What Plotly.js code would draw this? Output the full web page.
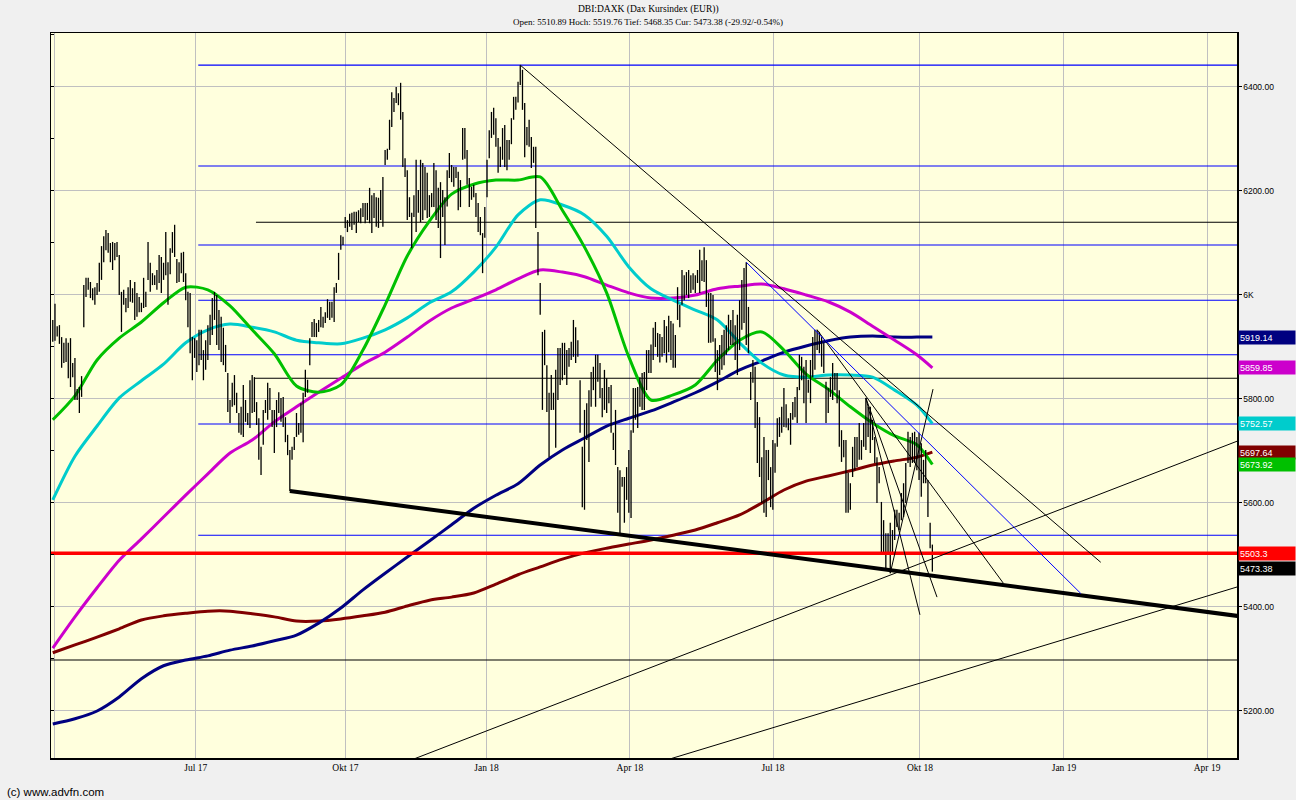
<!DOCTYPE html>
<html><head><meta charset="utf-8">
<script src="https://cdn.plot.ly/plotly-3.0.1.min.js"></script>
<style>html,body{margin:0;padding:0;background:#f0f0f0;}#chart{width:1296px;height:800px;}</style>
</head><body><div id="chart"></div>
<script>
// ---------- DATA ----------
const firstSession = '2017-03-31';
const highs = [
5952,5983,5940,5942,5919,5908,5917,5908,5917,5869,
5879,5819,5823,5844,6019,6033,6033,6025,6013,6015,
6023,6062,6094,6113,6125,6119,6100,6102,6100,6102,
6077,6006,6010,5994,6015,6029,6013,6025,6004,5996,
5985,6033,6006,6102,6062,6042,6038,6048,6077,6073,
6062,6121,6063,6090,6121,6135,6069,6063,6081,6083,
6042,6006,6004,5919,5917,5913,5933,5933,5894,5913,
5942,5962,5994,6006,6000,5971,5958,5937,5904,5850,
5798,5831,5846,5812,5773,5785,5827,5798,5773,5836,
5846,5842,5794,5763,5708,5779,5798,5831,5821,5779,
5779,5798,5813,5802,5804,5765,5731,5702,5708,5727,
5773,5754,5792,5812,5856,5837,5917,5948,5954,5946,
5952,5977,5958,5967,5992,5987,5987,6015,6023,6081,
6115,6112,6150,6144,6156,6158,6160,6160,6163,6167,
6177,6177,6177,6206,6192,6196,6188,6187,6202,6227,
6279,6281,6337,6390,6379,6400,6388,6408,6352,6263,
6240,6188,6158,6192,6260,6202,6260,6254,6246,6235,
6192,6196,6254,6240,6206,6217,6202,6188,6240,6273,
6250,6246,6246,6237,6221,6321,6321,6279,6225,6208,
6212,6196,6177,6150,6119,6169,6260,6317,6352,6360,
6340,6302,6285,6321,6327,6298,6298,6340,6381,6381,
6410,6442,6433,6369,6323,6337,6304,6285,6285,6121,
6023,5929,5933,5865,5812,5846,5812,5856,5898,5898,
5908,5908,5894,5898,5910,5952,5938,5913,5836,5708,
5779,5792,5817,5852,5862,5885,5885,5869,5821,5856,
5840,5823,5827,5735,5779,5669,5663,5650,5650,5669,
5702,5740,5821,5821,5823,5842,5850,5852,5894,5894,
5905,5937,5948,5927,5925,5919,5952,5940,5960,5950,
5945,5923,6015,5981,6048,6038,6044,6048,6038,6042,
6038,6048,6087,6067,6092,6067,6004,6004,6000,5917,
5894,5904,5923,5933,5942,5962,5952,5971,5942,5962,
5990,6029,6052,6063,5977,5852,5875,5862,5794,5765,
5688,5727,5702,5702,5669,5721,5715,5763,5765,5785,
5821,5790,5763,5773,5794,5804,5823,5885,5881,5862,
5875,5837,5875,5919,5933,5933,5929,5919,5908,5833,
5821,5842,5869,5850,5850,5817,5740,5721,5721,5658,
5638,5708,5727,5727,5754,5721,5754,5802,5785,5785,
5760,5727,5688,5669,5602,5567,5542,5542,5562,5548,
5587,5587,5581,5619,5638,5677,5737,5727,5735,5737,
5727,5735,5715,5683,5702,5644,5562,5520];
const lows = [
5910,5912,5920,5906,5860,5869,5871,5840,5823,5842,
5798,5798,5773,5804,5938,5996,6010,5994,5990,5981,
6000,6006,6029,6063,6086,6081,6063,6048,6067,6073,
6000,5929,5981,5967,5975,5987,5985,5952,5958,5967,
5967,5975,5977,6029,6006,6019,6019,6010,6023,6004,
6029,6038,5981,6040,6081,6073,6023,6025,6042,6025,
5990,5938,5888,5836,5879,5852,5865,5875,5836,5856,
5875,5904,5923,5952,5904,5894,5871,5865,5852,5775,
5754,5785,5788,5773,5735,5731,5727,5756,5750,5744,
5773,5775,5750,5683,5654,5712,5773,5760,5779,5746,
5696,5746,5773,5756,5746,5717,5692,5623,5683,5702,
5727,5731,5735,5717,5804,5812,5865,5919,5919,5919,
5929,5938,5937,5946,5956,5952,5956,5948,6004,6029,
6087,6096,6129,6121,6131,6125,6135,6119,6140,6138,
6150,6138,6144,6138,6119,6148,6131,6129,6144,6131,
6250,6260,6279,6323,6352,6369,6365,6337,6246,6227,
6144,6150,6090,6150,6121,6158,6140,6144,6163,6148,
6150,6169,6169,6144,6129,6071,6150,6096,6170,6225,
6217,6208,6225,6163,6169,6260,6262,6212,6169,6183,
6188,6150,6121,6115,6042,6110,6188,6263,6302,6308,
6285,6235,6246,6260,6246,6240,6260,6290,6337,6356,
6370,6404,6356,6265,6288,6285,6244,6254,6129,6038,
5962,5779,5865,5775,5688,5779,5779,5706,5798,5827,
5836,5846,5827,5862,5875,5881,5869,5881,5735,5592,
5587,5721,5679,5785,5817,5785,5833,5802,5765,5779,
5773,5792,5735,5702,5673,5581,5542,5631,5562,5606,
5581,5571,5735,5760,5744,5785,5779,5779,5817,5850,
5850,5875,5900,5881,5870,5881,5888,5870,5890,5875,
5860,5860,5952,5938,5981,5990,6000,5994,6004,6010,
6004,6023,6004,6027,6025,5977,5908,5908,5910,5852,
5817,5846,5856,5865,5885,5894,5904,5904,5875,5846,
5894,5933,5946,5904,5888,5798,5831,5744,5677,5650,
5600,5581,5573,5644,5592,5587,5658,5708,5727,5735,
5746,5745,5740,5712,5760,5765,5754,5817,5836,5792,
5754,5812,5792,5842,5856,5894,5888,5862,5850,5754,
5773,5804,5798,5817,5792,5708,5679,5688,5581,5581,
5587,5650,5663,5669,5683,5683,5708,5702,5727,5696,
5721,5677,5600,5638,5504,5500,5475,5500,5465,5500,
5529,5554,5548,5567,5573,5600,5677,5669,5677,5677,
5663,5644,5612,5638,5638,5573,5513,5468];

// moving averages, read every 10th session
const maSessionIdx = [0,10,20,30,40,50,60,70,80,90,100,110,120,130,140,150,160,170,180,190,200,210,220,230,240,250,260,270,280,290,300,310,320,330,340,350,360,370,380,390,397];
const maGreen = [5760,5806,5875,5917,5948,5985,6015,6010,5979,5933,5887,5825,5813,5827,5894,5981,6075,6142,6194,6213,6221,6221,6227,6163,6092,6004,5881,5798,5808,5827,5875,5913,5929,5894,5848,5819,5785,5754,5729,5712,5673.92];
const maCyan = [5606,5690,5748,5802,5835,5867,5908,5933,5944,5938,5929,5913,5908,5906,5917,5933,5956,5985,6006,6044,6092,6154,6183,6173,6154,6113,6054,6012,5990,5971,5952,5908,5869,5846,5842,5846,5846,5842,5817,5788,5752.57];
const maMagenta = [5321,5381,5437,5490,5531,5573,5615,5656,5696,5721,5756,5785,5813,5840,5867,5890,5919,5950,5975,5992,6010,6031,6048,6044,6035,6019,6004,5994,5994,6000,6012,6017,6021,6012,6000,5987,5967,5940,5913,5885,5859.85];
const maNavy = [5175,5185,5200,5227,5262,5287,5298,5306,5317,5325,5335,5346,5369,5398,5433,5465,5496,5527,5558,5590,5615,5637,5673,5702,5725,5748,5763,5777,5794,5812,5833,5856,5873,5890,5902,5912,5919,5921,5919,5919,5919.14];
const maDarkRed = [5312,5327,5342,5358,5375,5383,5388,5392,5392,5387,5381,5373,5373,5377,5383,5390,5402,5413,5419,5427,5444,5462,5477,5492,5504,5513,5521,5529,5538,5548,5562,5577,5600,5625,5642,5652,5662,5673,5681,5688,5697.64];

// horizontal levels
const blueLevels = [6442,6248,6096,5990,5885,5752,5538];
const blueLevelStart = '2017-06-30 16:00';
const blackLevels = [6140,5840];
const blackLevelStarts = ['2017-08-07 17:00','2017-08-04 19:00'];
const fullBlackLevel = 5298;
const redLevel = 5503.3;
const levelEnd = '2019-04-29';
const fullStart = '2017-03-20';

// trend lines
const thinX0 = ['2018-01-22','2018-07-27','2018-08-28','2018-08-28','2018-09-12','2017-10-30','2018-04-16'];
const thinY0 = [6442,5933,5802,5802,5465,5088,5098];
const thinX1 = ['2019-01-23','2018-11-22','2018-10-01 09:36','2018-10-11 02:24','2018-10-09 07:12','2019-04-29','2019-04-29'];
const thinY1 = [5486,5446,5385,5419,5819,5736,5452];
const blueTrendX = ['2018-06-13','2019-01-10'];
const blueTrendY = [6063,5426];
const thickTrendX = ['2017-08-29','2019-04-29'];
const thickTrendY = [5623,5377];

// texts and tick labels
const titleLines = ['DBI:DAXK (Dax Kursindex (EUR))','Open: 5510.89 Hoch: 5519.76 Tief: 5468.35 Cur: 5473.38 (-29.92/-0.54%)'];
const footerText = '(c) www.advfn.com';
const xTickVals = ['2017-04-03','2017-06-29 12:00','2017-10-03 02:00','2017-12-29 19:00','2018-03-30 12:00','2018-06-29 02:00','2018-10-01 09:36','2018-12-31 09:36','2019-04-01'];
const xTickText = ['','Jul 17','Okt 17','Jan 18','Apr 18','Jul 18','Okt 18','Jan 19','Apr 19'];
const yTickVals = [5200,5400,5600,5800,6000,6200,6400];
const yTickText = ['5200.00','5400.00','5600.00','5800.00','6K','6200.00','6400.00'];
const lastLabels = [5919.14,5859.85,5752.57,5697.64,5673.92,5503.3,5473.38];
const lastLabelText = ['5919.14','5859.85','5752.57','5697.64','5673.92','5503.3','5473.38'];
const lastLabelColors = ['#000080','#cc00cc','#00cccc','#800000','#00c000','#ff0000','#000000'];

// ---------- BUILD ----------
function buildSessions(start, n){
  const out=[]; let t=Date.parse(start+'T00:00:00Z');
  while(out.length<n){ const d=new Date(t); const wd=d.getUTCDay();
    if(wd!==0 && wd!==6) out.push(d.toISOString().slice(0,10)); t+=86400000; }
  return out;
}
const sessions = buildSessions(firstSession, highs.length);

const traces = [];
function seg(x0,x1,y0,y1,color,width){
  return {type:'scatter',mode:'lines',x:[x0,x1],y:[y0,y1],line:{color:color,width:width},hoverinfo:'skip'};
}
// levels
blueLevels.forEach(v=>traces.push(seg(blueLevelStart,levelEnd,v,v,'#0000ff',1.1)));
blackLevels.forEach((v,k)=>traces.push(seg(blackLevelStarts[k],levelEnd,v,v,'#000000',1.1)));
traces.push(seg(fullStart,levelEnd,fullBlackLevel,fullBlackLevel,'#000000',1.1));

// moving averages
const maX = maSessionIdx.map(k=>sessions[k]);
[[maDarkRed,'#800000'],[maNavy,'#000080'],[maMagenta,'#cc00cc'],[maCyan,'#00cccc'],[maGreen,'#00c000']].forEach(([arr,c])=>{
  traces.push({type:'scatter',mode:'lines',x:maX,y:arr,line:{color:c,width:3,shape:'spline',smoothing:0.8},hoverinfo:'skip'});
});

// price bars (high-low)
const bx=[], by=[];
sessions.forEach((d,k)=>{ bx.push(d,d,null); by.push(lows[k],highs[k],null); });
traces.push({type:'scatter',mode:'lines',x:bx,y:by,line:{color:'#000000',width:1.3},connectgaps:false,hoverinfo:'skip'});

// red level and thick trend
traces.push(seg(fullStart,levelEnd,redLevel,redLevel,'#ff0000',3.5));
traces.push({type:'scatter',mode:'lines',x:thickTrendX,y:thickTrendY,line:{color:'#000000',width:4},hoverinfo:'skip'});
// thin trends
thinX0.forEach((x0,k)=>traces.push(seg(x0,thinX1[k],thinY0[k],thinY1[k],'#000000',1)));
traces.push({type:'scatter',mode:'lines',x:blueTrendX,y:blueTrendY,line:{color:'#0000ff',width:1},hoverinfo:'skip'});
// dummy for left minor ticks axis
traces.push({type:'scatter',mode:'lines',x:[],y:[],yaxis:'y2',hoverinfo:'skip'});

const yRange=[5109.6,6503.8];
const minorTicks=[]; for(let v=5200; v<=6500; v+=100) minorTicks.push(v);

const annotations = lastLabels.map((v,k)=>({
  xref:'paper',yref:'y',x:1,y:v,xanchor:'left',yanchor:'middle',xshift:1,
  text:lastLabelText[k],showarrow:false,align:'left',width:54,height:11,borderpad:1,
  bgcolor:lastLabelColors[k],font:{family:'Liberation Sans',size:9,color:'#ffffff'}
}));
annotations.push({xref:'paper',yref:'paper',x:-0.0388,y:-0.0469,xanchor:'left',yanchor:'middle',
  text:footerText,showarrow:false,font:{family:'Liberation Sans',size:11.5,color:'#000'}});
annotations.push({xref:'paper',yref:'paper',x:0.5034,y:1.0331,xanchor:'center',yanchor:'middle',
  text:titleLines[0],showarrow:false,font:{family:'Liberation Serif',size:9.5,color:'#000'}});
annotations.push({xref:'paper',yref:'paper',x:0.5034,y:1.0152,xanchor:'center',yanchor:'middle',
  text:titleLines[1],showarrow:false,font:{family:'Liberation Serif',size:9,color:'#000'}});

const layout = {
  width:1296,height:800,
  margin:{l:51,r:59,t:33,b:42},
  paper_bgcolor:'#f0f0f0',plot_bgcolor:'#ffffdd',
  showlegend:false,hovermode:false,
  xaxis:{type:'date',range:['2017-03-30 04:48','2019-04-18 12:00'],rangebreaks:[{bounds:['sat','mon']}],
    tickmode:'array',tickvals:xTickVals,ticktext:xTickText,showgrid:true,gridcolor:'#c0c0c0',gridwidth:1,
    showline:true,linecolor:'#000',linewidth:1.5,mirror:true,ticks:'',zeroline:false,
    tickfont:{family:'Liberation Serif',size:9.5,color:'#000'}},
  yaxis:{range:yRange,side:'right',tickmode:'array',tickvals:yTickVals,ticktext:yTickText,
    showgrid:true,gridcolor:'#c0c0c0',gridwidth:1,showline:true,mirror:true,linecolor:'#000',linewidth:1.5,
    ticks:'outside',ticklen:3,tickcolor:'#000',zeroline:false,
    tickfont:{family:'Liberation Sans',size:8.5,color:'#000'}},
  yaxis2:{overlaying:'y',side:'left',range:yRange,tickmode:'array',tickvals:minorTicks,ticks:'inside',ticklen:3,
    tickcolor:'#000',showticklabels:false,showgrid:false,zeroline:false,showline:false},
  annotations:annotations
};
Plotly.newPlot('chart',traces,layout,{displayModeBar:false,staticPlot:true});
</script></body></html>
